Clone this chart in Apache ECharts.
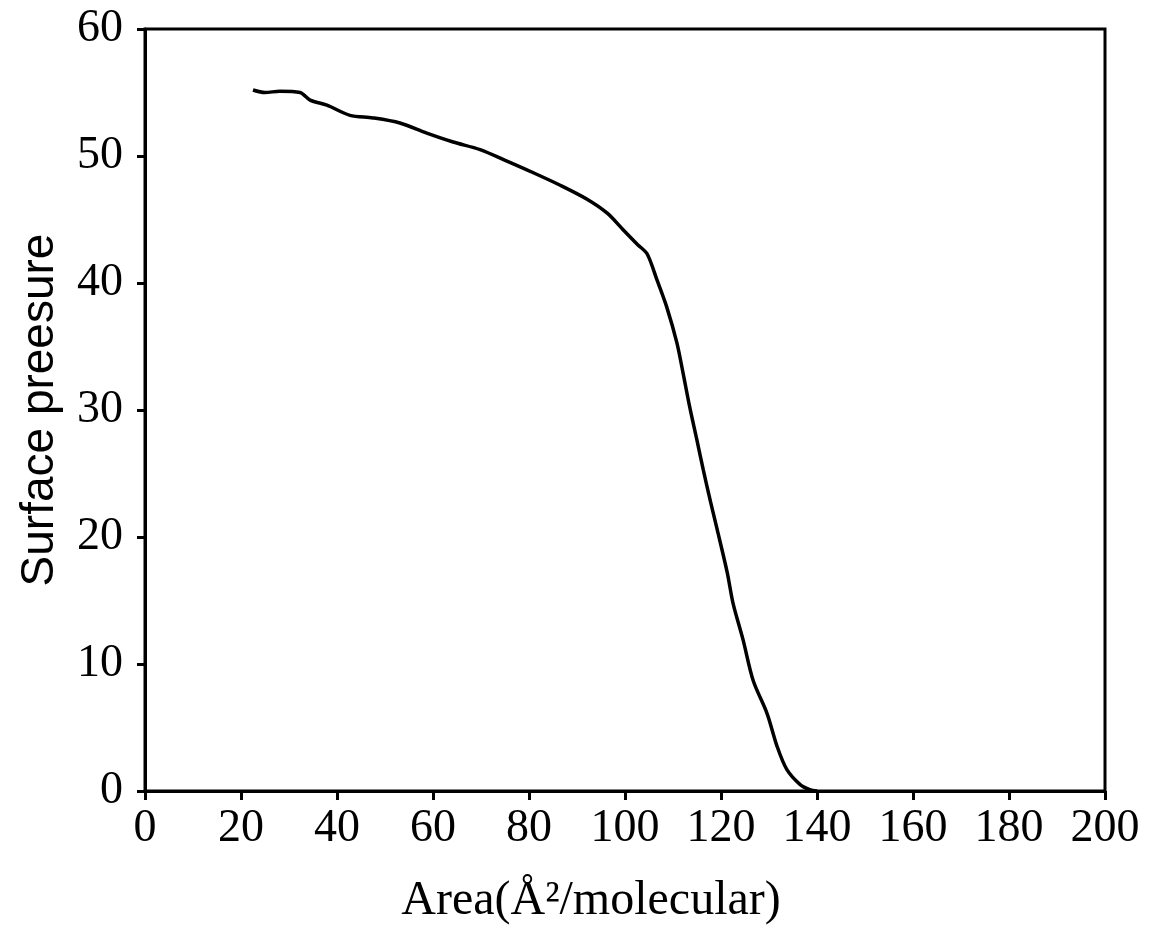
<!DOCTYPE html>
<html>
<head>
<meta charset="utf-8">
<script src="https://cdn.jsdelivr.net/npm/echarts@6/dist/echarts.min.js"></script>
<style>
  html, body { margin: 0; padding: 0; background: #fff; }
  #main { width: 1155px; height: 949px; }
</style>
</head>
<body>
<div id="main"></div>
<script>
// isotherm: area (Å²/molecule) and surface pressure
var area = [22.5, 25, 28.1, 32.3, 34.4, 37.9, 42.7, 47.5, 53.1, 58.7, 64.2, 69.8, 75.4, 80.8,
  86.5, 92.1, 96.3, 99.6, 102.7, 104.6, 106.7, 108.7, 110.8, 112.1, 113.5, 115.0, 116.3,
  117.8, 119.2, 121.3, 122.5, 124.6, 126.7, 129.6, 131.7, 133.7, 136.5, 138.5, 140];
var pressure = [55.2, 55.0, 55.1, 55.0, 54.4, 54.0, 53.2, 53.0, 52.6, 51.8, 51.1, 50.5, 49.6, 48.7,
  47.7, 46.6, 45.5, 44.2, 43.0, 42.3, 40.2, 38.1, 35.3, 32.9, 30.2, 27.6, 25.3,
  22.8, 20.6, 17.2, 14.8, 11.9, 8.7, 6.1, 3.5, 1.7, 0.5, 0.1, 0];
var xTicks = [0, 200, 20];
var yTicks = [0, 60, 10];

var points = area.map(function (a, i) { return [a, pressure[i]]; });

var myChart = echarts.init(document.getElementById('main'));
var option = {
    backgroundColor: '#ffffff',
    animation: false,
    grid: {
        left: 145,
        right: 50,
        top: 29,
        bottom: 158,
        show: true,
        borderColor: '#000',
        borderWidth: 3
    },
    xAxis: {
        type: 'value',
        min: xTicks[0],
        max: xTicks[1],
        interval: xTicks[2],
        name: 'Area(Å²/molecular)',
        nameLocation: 'middle',
        nameGap: 86,
        nameTextStyle: { fontFamily: 'Liberation Serif', fontSize: 48, color: '#000', padding: [0, 68, 0, 0] },
        axisLine: { lineStyle: { color: '#000', width: 3 } },
        axisTick: { show: true, length: 9, lineStyle: { color: '#000', width: 3 } },
        axisLabel: { fontFamily: 'Liberation Serif', fontSize: 46, color: '#000', margin: 15 },
        splitLine: { show: false }
    },
    yAxis: {
        type: 'value',
        min: yTicks[0],
        max: yTicks[1],
        interval: yTicks[2],
        name: 'Surface preesure',
        nameLocation: 'middle',
        nameGap: 82,
        nameTextStyle: { fontFamily: 'Liberation Sans', fontSize: 46, color: '#000' },
        axisLine: { show: true, lineStyle: { color: '#000', width: 3 } },
        axisTick: { show: true, length: 8, lineStyle: { color: '#000', width: 3 } },
        axisLabel: { fontFamily: 'Liberation Serif', fontSize: 46, color: '#000', margin: 22 },
        splitLine: { show: false }
    },
    series: [
        {
            type: 'line',
            data: points,
            showSymbol: false,
            smooth: 0.3,
            lineStyle: { color: '#000', width: 3.5 }
        }
    ]
};
myChart.setOption(option);
</script>
</body>
</html>
